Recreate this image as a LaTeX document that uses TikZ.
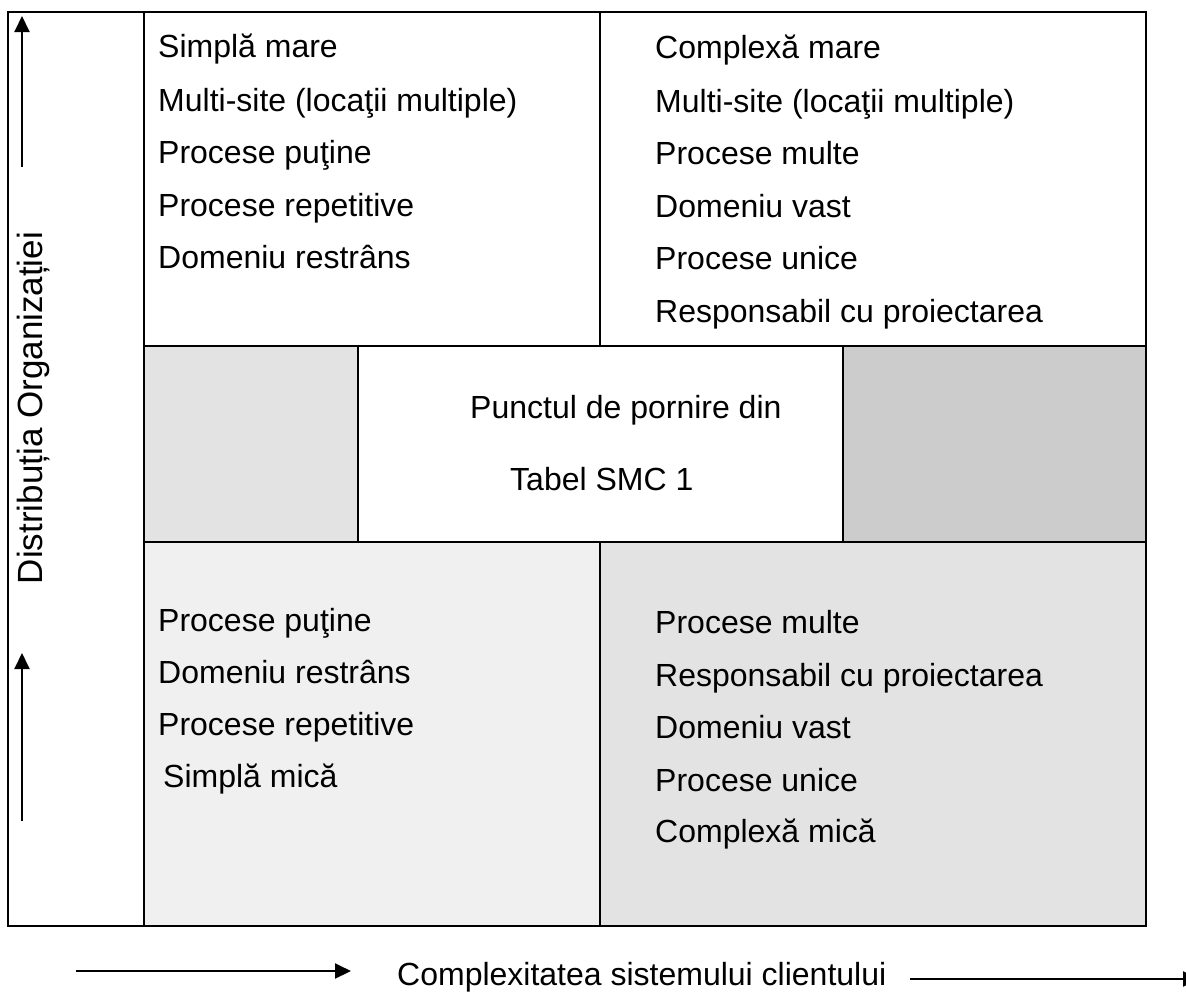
\documentclass[tikz,border=0pt]{standalone}
\usepackage{fontspec}
\setmainfont{Liberation Sans}
\usetikzlibrary{arrows.meta}
\definecolor{greyA}{HTML}{E3E3E3}
\definecolor{greyB}{HTML}{CCCCCC}
\definecolor{greyC}{HTML}{F0F0F0}
\begin{document}
\begin{tikzpicture}[x=1pt,y=-1pt,
  cell/.style={draw=black, line width=2pt, inner sep=0pt, outer sep=0pt},
  txt/.style={anchor=base west, inner sep=0pt, font=\fontsize{32}{38}\selectfont},
  axisarrow/.style={line width=2pt, -{Triangle[length=16pt,width=15pt]}}]
\clip (0,0) rectangle (1186,994);
\fill[white] (0,0) rectangle (1186,994);
% cells
\node[cell, fill=white, minimum width=136pt, minimum height=914pt] (lab) at (76,469) {};
\node[cell, fill=white, minimum width=456pt, minimum height=334pt] (tl) at (372,179) {};
\node[cell, fill=white, minimum width=546pt, minimum height=334pt] (tr) at (873,179) {};
\node[cell, fill=greyA, minimum width=214pt, minimum height=196pt] (ml) at (251,444) {};
\node[cell, fill=white, minimum width=485pt, minimum height=196pt] (mc) at (600.5,444) {};
\node[cell, fill=greyB, minimum width=303pt, minimum height=196pt] (mr) at (994.5,444) {};
\node[cell, fill=greyC, minimum width=456pt, minimum height=384pt] (bl) at (372,734) {};
\node[cell, fill=greyA, minimum width=546pt, minimum height=384pt] (br) at (873,734) {};
% top-left texts
\node[txt] (tl1) at (158,57) {Simplă mare};
\node[txt] (tl2) at (158,111) {Multi-site (locaţii multiple)};
\node[txt] (tl3) at (158,163) {Procese puţine};
\node[txt] (tl4) at (158,216) {Procese repetitive};
\node[txt] (tl5) at (158,268) {Domeniu restrâns};
% top-right texts
\node[txt] (tr1) at (655,58) {Complexă mare};
\node[txt] (tr2) at (655,112) {Multi-site (locaţii multiple)};
\node[txt] (tr3) at (655,164) {Procese multe};
\node[txt] (tr4) at (655,217) {Domeniu vast};
\node[txt] (tr5) at (655,269) {Procese unice};
\node[txt] (tr6) at (655,322) {Responsabil cu proiectarea};
% middle texts
\node[txt] (mc1) at (470,418) {Punctul de pornire din};
\node[txt] (mc2) at (510,490) {Tabel SMC 1};
% bottom-left texts
\node[txt] (bl1) at (158,631) {Procese puţine};
\node[txt] (bl2) at (158,683) {Domeniu restrâns};
\node[txt] (bl3) at (158,735) {Procese repetitive};
\node[txt] (bl4) at (163,787) {Simplă mică};
% bottom-right texts
\node[txt] (br1) at (655,633) {Procese multe};
\node[txt] (br2) at (655,686) {Responsabil cu proiectarea};
\node[txt] (br3) at (655,738) {Domeniu vast};
\node[txt] (br4) at (655,791) {Procese unice};
\node[txt] (br5) at (655,842) {Complexă mică};
% axis labels
\node[rotate=90, anchor=base, inner sep=0pt, font=\fontsize{35}{42}\selectfont] (ylab) at (42,408) {Distribuția Organizației};
\node[txt] (xlab) at (397,985) {Complexitatea sistemului clientului};
% arrows
\coordinate (va1s) at (22,167);
\coordinate (va1e) at (22,16);
\coordinate (va2s) at (22,821);
\coordinate (va2e) at (22,653);
\coordinate (ha1s) at (76,971);
\coordinate (ha1e) at (351,971);
\coordinate (ha2s) at (910,979);
\coordinate (ha2e) at (1199,979);
\draw[axisarrow] (va1s) -- (va1e);
\draw[axisarrow] (va2s) -- (va2e);
\draw[axisarrow] (ha1s) -- (ha1e);
\draw[axisarrow] (ha2s) -- (ha2e);
\end{tikzpicture}
\end{document}
